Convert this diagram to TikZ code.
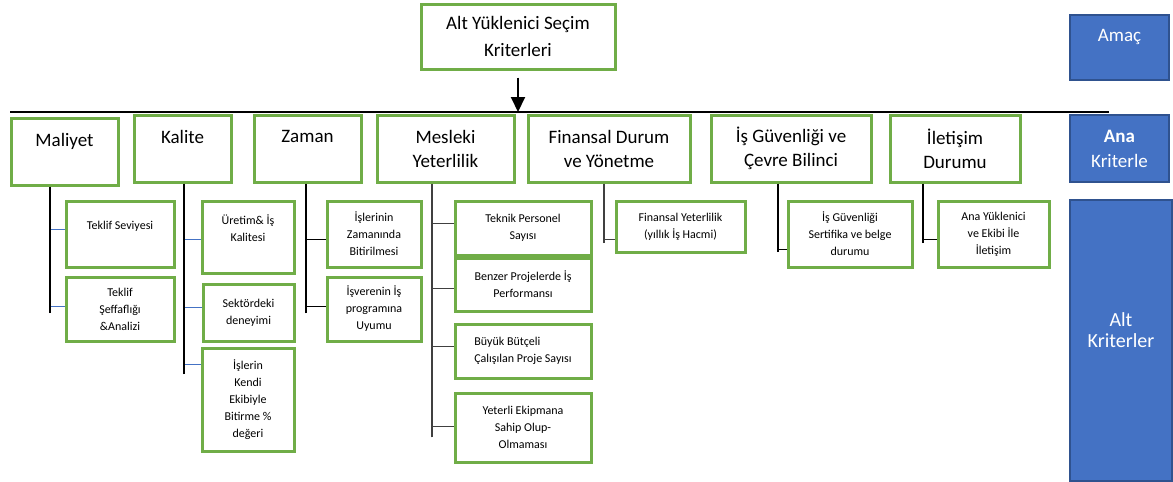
\documentclass[tikz,border=0pt]{standalone}
\usepackage{fontspec}
\setmainfont{Carlito}
\usepackage{tikz}
\usetikzlibrary{arrows.meta}

\definecolor{boxgreen}{HTML}{70AD47}
\definecolor{acblue}{HTML}{4472C4}
\definecolor{acborder}{HTML}{2F528F}

\begin{document}
\begin{tikzpicture}[x=1pt,y=-1pt]

  \tikzset{MAIN/.style={draw=boxgreen, line width=3pt, align=center, inner sep=0pt,
      font=\fontsize{19}{24}\selectfont}}
  \tikzset{SUB/.style={draw=boxgreen, line width=3pt, align=center, inner sep=0pt,
      font=\fontsize{12}{17}\selectfont}}
  \tikzset{LEVEL/.style={draw=acborder, fill=acblue, line width=2pt, text=white,
      align=center, inner sep=0pt, font=\fontsize{19}{25}\selectfont}}
  \tikzset{TRUNK/.style={line width=1.8pt}}
  \tikzset{TWIG/.style={line width=1.8pt, draw=acblue}}

  \useasboundingbox (0,0) rectangle (1173,482);

  \node[MAIN, minimum width=194, minimum height=65,
        font=\fontsize{19}{27}\selectfont] (goal) at (518,36.5) {Alt Yüklenici Seçim\\Kriterleri};

  \node[MAIN, minimum width=107, minimum height=67] (mal) at (64.5,151.5) {Maliyet\\~};
  \node[MAIN, minimum width=97,  minimum height=67] (kal) at (182.5,148.5) {Kalite\\~};
  \node[MAIN, minimum width=107, minimum height=67] (zam) at (307.5,148.5) {Zaman\\~};
  \node[MAIN, minimum width=137, minimum height=67] (mes) at (445.5,148.5) {Mesleki\\Yeterlilik};
  \node[MAIN, minimum width=162, minimum height=67] (fin) at (609,148.5) {Finansal Durum\\ve Yönetme};
  \node[MAIN, minimum width=160, minimum height=67] (isg) at (791,148.5) {İş Güvenliği ve\\Çevre Bilinci};
  \node[MAIN, minimum width=130, minimum height=67] (ilt) at (955,148.5) {İletişim\\Durumu};

  \node[SUB, minimum width=108, minimum height=66] (t1) at (120,234) {Teklif Seviyesi\\~};
  \node[SUB, minimum width=108, minimum height=64] (t2) at (120,309) {Teklif\\Şeffaflığı\\\&Analizi};

  \node[SUB, minimum width=92, minimum height=72]  (k1) at (248,237) {Üretim\& İş\\Kalitesi\\~};
  \node[SUB, minimum width=91, minimum height=57]  (k2) at (248.5,312.5) {Sektördeki\\deneyimi};
  \node[SUB, minimum width=92, minimum height=103] (k3) at (248,399.5) {İşlerin\\Kendi\\Ekibiyle\\Bitirme \%\\değeri};

  \node[SUB, minimum width=94, minimum height=66] (z1) at (374,234) {İşlerinin\\Zamanında\\Bitirilmesi};
  \node[SUB, minimum width=94, minimum height=64] (z2) at (374,309) {İşverenin İş\\programına\\Uyumu};

  \node[SUB, minimum width=136, minimum height=54] (m1) at (523,228) {Teknik Personel\\Sayısı};
  \node[SUB, minimum width=136, minimum height=53] (m2) at (523,284.5) {Benzer Projelerde İş\\Performansı};
  \node[SUB, minimum width=136, minimum height=54, align=left] (m3) at (523,351) {Büyük Bütçeli\\Çalışılan Proje Sayısı};
  \node[SUB, minimum width=136, minimum height=69] (m4) at (523,427.5) {Yeterli Ekipmana\\Sahip Olup-\\Olmaması};

  \node[SUB, minimum width=129, minimum height=51] (f1) at (680.5,226.5) {Finansal Yeterlilik\\(yıllık İş Hacmi)};
  \node[SUB, minimum width=124, minimum height=66] (g1) at (850,234) {İş Güvenliği\\Sertifika ve belge\\durumu};
  \node[SUB, minimum width=111, minimum height=66] (i1) at (993.5,234) {Ana Yüklenici\\ve Ekibi İle\\İletişim};

  \node[LEVEL, minimum width=99, minimum height=65] (amac) at (1119.5,47.5) {Amaç\\~};
  \node[LEVEL, minimum width=99, minimum height=67] (ana) at (1119.5,148.5) {\textbf{Ana}\\Kriterle};
  \node[LEVEL, minimum width=102, minimum height=281,
        font=\fontsize{20}{21}\selectfont] (alt) at (1121,340.5) {Alt\\Kriterler\\~};

  % trunk ends and the bar
  \coordinate (malT) at (50,313);
  \coordinate (kalT) at (184,374);
  \coordinate (zamT) at (306,313);
  \coordinate (mesT) at (432,437);
  \coordinate (finT) at (604,243);
  \coordinate (isgT) at (778,252);
  \coordinate (iltT) at (923,243);
  \coordinate (barL) at (10,112);
  \coordinate (barR) at (1109,112);

  \draw[line width=1.5pt] (barL) -- (barR);
  \draw[-{Triangle[width=14pt,length=15pt]}, line width=2pt, shorten <=7pt] (goal.south) -- (goal.south |- barL);

  \draw[TWIG] (malT) |- ([yshift=-30pt]t1.north west);
  \draw[TWIG] (malT) |- ([yshift=-31pt]t2.north west);
  \draw[TWIG] (kalT) |- ([yshift=-40pt]k1.north west);
  \draw[TWIG] (kalT) |- ([yshift=-25pt]k2.north west);
  \draw[TWIG] (kalT) |- ([yshift=-18pt]k3.north west);
  \draw[TRUNK] (zamT) |- ([yshift=-40pt]z1.north west);
  \draw[TRUNK] (zamT) |- ([yshift=-31pt]z2.north west);
  \draw[TRUNK, black!75] (mesT) |- ([yshift=-24pt]m1.north west);
  \draw[TRUNK, black!75] (mesT) |- ([yshift=-32pt]m2.north west);
  \draw[TRUNK, black!75] (mesT) |- ([yshift=-24pt]m3.north west);
  \draw[TRUNK, black!75] (mesT) |- ([yshift=-35pt]m4.north west);
  \draw[TRUNK, black!75] (finT) |- ([yshift=-40pt]f1.north west);
  \draw[TRUNK] (isgT) |- ([yshift=-50pt]g1.north west);
  \draw[TRUNK] (iltT) |- ([yshift=-40pt]i1.north west);

  \draw[TRUNK] (mal.south -| malT) -- (malT);
  \draw[TRUNK] (kal.south -| kalT) -- (kalT);
  \draw[TRUNK] (zam.south -| zamT) -- (zamT);
  \draw[TRUNK, black!75] (mes.south -| mesT) -- (mesT);
  \draw[TRUNK, black!75] (fin.south -| finT) -- (finT);
  \draw[TRUNK] (isg.south -| isgT) -- (isgT);
  \draw[TRUNK] (ilt.south -| iltT) -- (iltT);
\end{tikzpicture}
\end{document}
